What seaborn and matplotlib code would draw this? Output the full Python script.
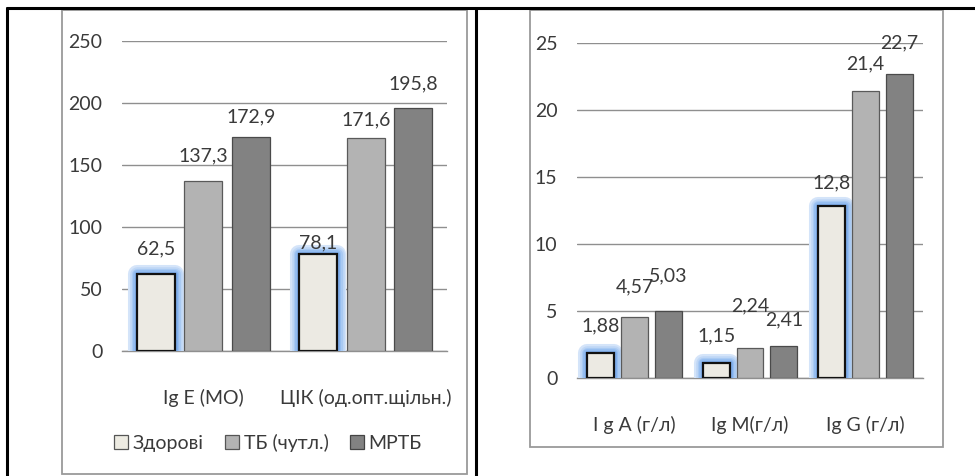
import matplotlib
matplotlib.use("Agg")
import matplotlib.pyplot as plt
import matplotlib.patheffects as pe
from matplotlib.patches import Rectangle
from matplotlib.lines import Line2D
import seaborn as sns
import pandas as pd

# ---- data ----
series = ["Здорові", "ТБ (чутл.)", "МРТБ"]

left_categories = ["Ig E (MO)", "ЦІК (од.опт.щільн.)"]
left_healthy = [62.5, 78.1]
left_tb = [137.3, 171.6]
left_mrtb = [172.9, 195.8]
left_ticks = [0, 50, 100, 150, 200, 250]

right_categories = ["I g A (г/л)", "Ig M(г/л)", "Ig G (г/л)"]
right_healthy = [1.88, 1.15, 12.8]
right_tb = [4.57, 2.24, 21.4]
right_mrtb = [5.03, 2.41, 22.7]
right_ticks = [0, 5, 10, 15, 20, 25]

# label vertical offsets (pixels above bar top), per series then category
left_label_off = [[25, 11], [25, 18], [20, 24]]
right_label_off = [[27, 27, 24], [30, 42, 27], [35, 26, 31]]

colors = ["#EDEBE2", "#B3B3B3", "#828282"]
edges = ["#111111", "#5a5a5a", "#4a4a4a"]
TEXT = "#3a3a3a"
FONT = ["Lato", "DejaVu Sans"]
FS = 14

sns.set_theme(style="white")
plt.rcParams["font.family"] = FONT
plt.rcParams["text.color"] = TEXT
plt.rcParams["axes.labelcolor"] = TEXT
plt.rcParams["xtick.color"] = TEXT
plt.rcParams["ytick.color"] = TEXT

fig = plt.figure(figsize=(9.75, 4.76), dpi=100)
W, H = 975.0, 476.0

def fx(x):
    return x / W

def fy(y):
    return 1 - y / H

# outer table lines
for (x0, y0, x1, y1) in [(7, 8, 975, 8), (7, 8, 7, 476), (476, 8, 476, 476)]:
    fig.add_artist(Line2D([fx(x0), fx(x1)], [fy(y0), fy(y1)], color="black", lw=2.2,
                          transform=fig.transFigure))
# chart frames
for (x0, y0, x1, y1) in [(62, 10, 467, 474), (530, 10, 943, 447)]:
    fig.add_artist(Rectangle((fx(x0), fy(y1)), fx(x1) - fx(x0), fy(y0) - fy(y1),
                             transform=fig.transFigure, fill=False,
                             edgecolor="#9a9a9a", lw=1.3))


def make_df(cats, a, b, c):
    rows = []
    for s, vals in zip(series, [a, b, c]):
        for cat, v in zip(cats, vals):
            rows.append({"cat": cat, "series": s, "value": v})
    return pd.DataFrame(rows)


GLOW = [pe.Stroke(linewidth=lw, foreground=c, alpha=1.0, joinstyle="round")
        for lw, c in [(13, "#d4e4f9"), (10.5, "#bfd7f6"), (8, "#a9caf3"),
                      (5.5, "#93bcf0"), (3.5, "#80afed")]] + [pe.Normal()]


def draw(ax, df, cats, ticks, offs, fmt_vals):
    sns.barplot(data=df, x="cat", y="value", hue="series", order=cats,
                hue_order=series, palette=colors, width=0.877, gap=0.2,
                ax=ax, legend=False, zorder=3)
    for i, cont in enumerate(ax.containers):
        for j, p in enumerate(cont.patches):
            p.set_edgecolor(edges[i])
            p.set_linewidth(1.6 if i == 0 else 0.9)
            if i == 0:
                p.set_path_effects(GLOW)
            v = p.get_height()
            ax.annotate(fmt_vals[i][j], (p.get_x() + p.get_width() / 2, v),
                        xytext=(0, offs[i][j]), textcoords="offset pixels",
                        ha="center", va="center", fontsize=FS, color=TEXT,
                        zorder=5)
    ax.set_ylim(ticks[0], ticks[-1])
    ax.set_yticks(ticks)
    ax.set_yticklabels([str(t) for t in ticks], fontsize=FS)
    ax.tick_params(axis="y", length=0, pad=14)
    ax.tick_params(axis="x", length=0, pad=27, labelsize=FS)
    ax.yaxis.grid(True, color="#8f8f8f", lw=1.0, zorder=0)
    ax.set_axisbelow(True)
    for s in ["top", "right", "left"]:
        ax.spines[s].set_visible(False)
    ax.spines["bottom"].set_color("#8f8f8f")
    ax.spines["bottom"].set_linewidth(1.0)
    ax.set_xlabel("")
    ax.set_ylabel("")
    ax.patch.set_alpha(0)


def fmt(v, nd):
    return (f"{v:.{nd}f}").replace(".", ",")

# left chart
axL = fig.add_axes([fx(122), fy(351), fx(447) - fx(122), fy(41) - fy(351)])
dfL = make_df(left_categories, left_healthy, left_tb, left_mrtb)
draw(axL, dfL, left_categories, left_ticks, left_label_off,
     [[fmt(v, 1) for v in left_healthy], [fmt(v, 1) for v in left_tb],
      [fmt(v, 1) for v in left_mrtb]])

# right chart
axR = fig.add_axes([fx(577), fy(378), fx(923) - fx(577), fy(43) - fy(378)])
dfR = make_df(right_categories, right_healthy, right_tb, right_mrtb)
draw(axR, dfR, right_categories, right_ticks, right_label_off,
     [["1,88", "1,15", "12,8"], ["4,57", "2,24", "21,4"], ["5,03", "2,41", "22,7"]])

# legend (left chart)
handles = [Rectangle((0, 0), 1, 1, facecolor=c, edgecolor=e, lw=0.9)
           for c, e in zip(colors, ["#555555", "#555555", "#444444"])]
fig.legend(handles, series, loc="center", bbox_to_anchor=(fx(268), fy(443)),
           ncol=3, frameon=False, fontsize=FS, handlelength=0.7,
           handleheight=0.7, handletextpad=0.25, columnspacing=1.1,
           labelcolor=TEXT)

fig.savefig("out.png", dpi=100)
